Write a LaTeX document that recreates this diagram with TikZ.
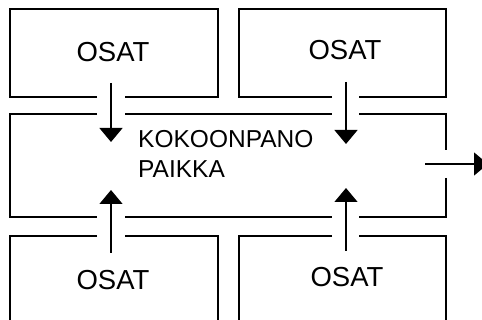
\documentclass[tikz,border=0pt]{standalone}
\usepackage{fontspec}
\setmainfont{Liberation Sans}
\usetikzlibrary{arrows.meta}
\tikzset{
  wall/.style={line width=1.3pt, line cap=butt},
  feed/.style={line width=1.3pt, -{Triangle[length=14pt,width=23pt]}},
  partlabel/.style={inner sep=0pt, font=\fontsize{27.5}{30}\selectfont},
  sitelabel/.style={inner sep=0pt, anchor=base west, font=\fontsize{24.5}{30}\selectfont}
}
\begin{document}
\begin{tikzpicture}[x=1pt,y=-1pt]
\useasboundingbox (0,0) rectangle (482,320);
\clip (0,0) rectangle (482,320);
% top-left box
\draw[wall] (97,97) -- (10,97) -- (10,9) -- (218,9) -- (218,97) -- (125,97);
% top-right box
\draw[wall] (332,97) -- (239,97) -- (239,9) -- (446,9) -- (446,97) -- (359,97);
% middle box (assembly site)
\draw[wall] (97,114) -- (10,114) -- (10,217) -- (97,217);
\draw[wall] (125,114) -- (332,114);
\draw[wall] (359,114) -- (446,114) -- (446,150);
\draw[wall] (446,178) -- (446,217) -- (359,217);
\draw[wall] (125,217) -- (332,217);
% bottom-left box
\draw[wall] (97,236) -- (10,236) -- (10,330);
\draw[wall] (125,236) -- (218,236) -- (218,330);
% bottom-right box
\draw[wall] (332,236) -- (239,236) -- (239,330);
\draw[wall] (359,236) -- (446,236) -- (446,330);
% labels
\node[partlabel] (tl) at (113,52) {OSAT};
\node[partlabel] (tr) at (345,50) {OSAT};
\node[partlabel] (bl) at (113,280) {OSAT};
\node[partlabel] (br) at (347,277) {OSAT};
\node[sitelabel] (site1) at (138,148) {KOKOONPANO};
\node[sitelabel] (site2) at (138,178) {PAIKKA};
% arrow end points
\coordinate (tlS) at (111,83);
\coordinate (tlE) at (111,142);
\coordinate (trS) at (346,82);
\coordinate (trE) at (346,144);
\coordinate (blS) at (111,253);
\coordinate (blE) at (111,190);
\coordinate (brS) at (346,251);
\coordinate (brE) at (346,188);
\coordinate (outS) at (425,164);
\coordinate (outE) at (488,164);
\draw[feed] (tlS) -- (tlE);
\draw[feed] (trS) -- (trE);
\draw[feed] (blS) -- (blE);
\draw[feed] (brS) -- (brE);
\draw[feed] (outS) -- (outE);
\end{tikzpicture}
\end{document}
